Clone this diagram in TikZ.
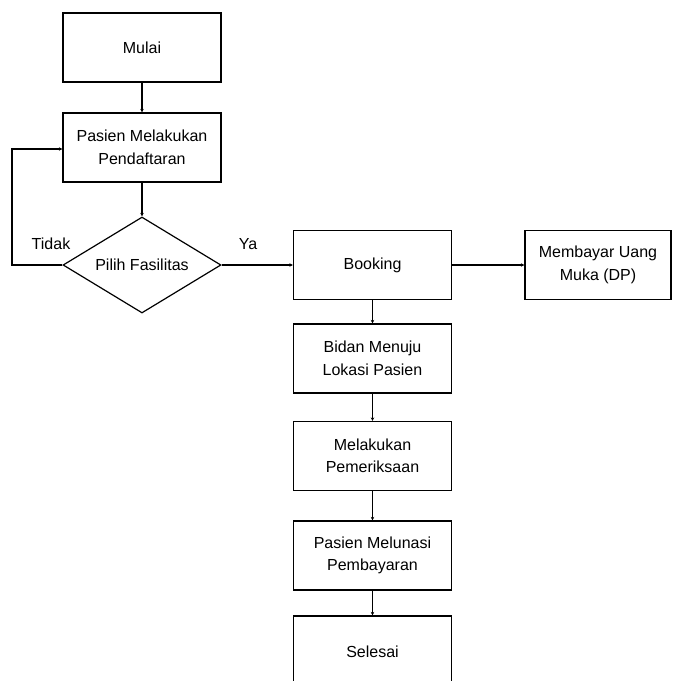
\documentclass[tikz,border=0pt]{standalone}
\usepackage{fontspec}
\setmainfont{Liberation Sans}
\usetikzlibrary{shapes.geometric,arrows.meta}
\tikzset{
  txt/.style={font=\fontsize{16}{22.5}\selectfont},
  box/.style={txt, draw, line width=1.2pt, minimum width=158pt, minimum height=69pt,
    inner sep=0pt, align=center},
  decision/.style={txt, draw, diamond, line width=1.2pt, aspect=1.65, inner sep=0pt,
    minimum width=158pt, minimum height=96pt},
  flow/.style={line width=1.2pt, -{Stealth[length=3.5pt,width=3.5pt]}},
  lbl/.style={txt, inner sep=0pt}
}
\begin{document}
\begin{tikzpicture}[x=1pt,y=1pt]
\useasboundingbox (0,0) rectangle (673,-681);
\clip (0,0) rectangle (673,-681);
% left column
\node[box] (mulai) at (142,-47.5) {Mulai};
\node[box] (daftar) at (142,-147.5) {Pasien Melakukan\\Pendaftaran};
\node[decision] (pilih) at (142,-265) {Pilih Fasilitas};
% right column
\node[box] (booking) at (372.5,-265) {Booking};
\node[box, minimum width=146pt] (dp) at (598,-265) {Membayar Uang\\Muka (DP)};
\node[box] (bidan) at (372.5,-358.5) {Bidan Menuju\\Lokasi Pasien};
\node[box] (periksa) at (372.5,-456) {Melakukan\\Pemeriksaan};
\node[box] (lunas) at (372.5,-555.5) {Pasien Melunasi\\Pembayaran};
\node[box, minimum height=72pt] (selesai) at (372.5,-652) {Selesai};
% connectors
\draw[flow] (mulai) -- (daftar);
\draw[flow] (daftar) -- (pilih);
\coordinate (loopb) at (12,-265);
\coordinate (loopt) at (12,-149);
\draw[flow] (pilih.west) -- (loopb) -- (loopt) -- (daftar.west |- loopt);
\draw[flow] (pilih.east) -- (booking.west);
\draw[flow] (booking.east) -- (dp.west);
\draw[flow] (booking) -- (bidan);
\draw[flow] (bidan) -- (periksa);
\draw[flow] (periksa) -- (lunas);
\draw[flow] (lunas) -- (selesai);
% branch labels
\node[lbl] (tidak) at (51,-244) {Tidak};
\node[lbl] (ya) at (248,-244) {Ya};
\end{tikzpicture}
\end{document}
